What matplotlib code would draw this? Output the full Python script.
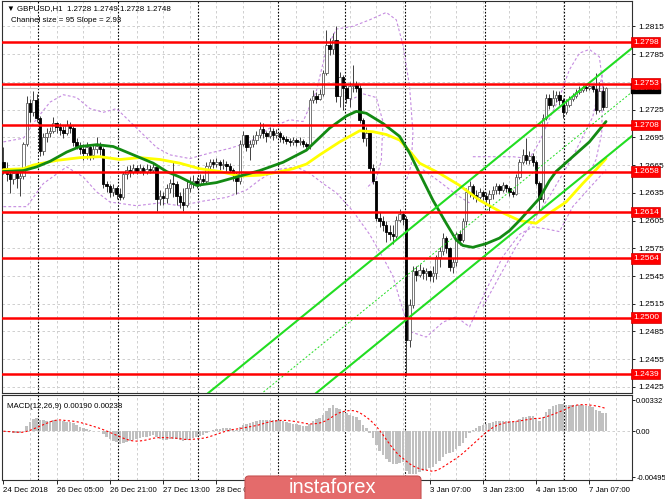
import matplotlib
matplotlib.use('Agg')
import matplotlib.pyplot as plt
import matplotlib.transforms as mtransforms
from matplotlib.patches import FancyBboxPatch
import numpy as np
import pandas as pd

plt.rcParams['font.family'] = ['Liberation Sans', 'DejaVu Sans']

# GBPUSD H1, bar 0 = 24 Dec 2018 13:00 ... bar 181 = 7 Jan 2019 12:00
open_first = 1.2668
close = [1.2662, 1.2655, 1.2650, 1.2656, 1.2651, 1.2653, 1.2688, 1.2732, 1.2722, 1.2735, 1.2716,
         1.2680, 1.2695, 1.2700, 1.2702, 1.2710, 1.2706, 1.2703, 1.2700, 1.2708, 1.2705,
         1.2690, 1.2686, 1.2682, 1.2678, 1.2684, 1.2676, 1.2682, 1.2686, 1.2682, 1.2645,
         1.2642, 1.2636, 1.2640, 1.2634, 1.2630, 1.2655, 1.2660, 1.2658, 1.2662, 1.2659,
         1.2662, 1.2658, 1.2661, 1.2660, 1.2663, 1.2628, 1.2632, 1.2629, 1.2640, 1.2646,
         1.2645, 1.2632, 1.2625, 1.2622, 1.2640, 1.2644, 1.2648, 1.2645, 1.2650, 1.2648,
         1.2664, 1.2668, 1.2666, 1.2668, 1.2665, 1.2666, 1.2664, 1.2660, 1.2655, 1.2648,
         1.2688, 1.2698, 1.2684, 1.2688, 1.2692, 1.2698, 1.2704, 1.2700, 1.2696, 1.2702,
         1.2698, 1.2700, 1.2695, 1.2693, 1.2691, 1.2690, 1.2692, 1.2690, 1.2691, 1.2688, 1.2686,
         1.2735, 1.2740, 1.2736, 1.2742, 1.2765, 1.2795, 1.2790, 1.2800, 1.2740, 1.2760,
         1.2748, 1.2738, 1.2750, 1.2752, 1.2748, 1.2714, 1.2694, 1.2700, 1.2662, 1.2648,
         1.2608, 1.2604, 1.2600, 1.2593, 1.2590, 1.2588, 1.2606, 1.2612, 1.2607, 1.2476,
         1.2514, 1.2550, 1.2546, 1.2552, 1.2548, 1.2550, 1.2545, 1.2548, 1.2566, 1.2572,
         1.2586, 1.2575, 1.2555, 1.2560, 1.2590, 1.2584, 1.2604, 1.2636, 1.2642, 1.2633,
         1.2630, 1.2636, 1.2632, 1.2628, 1.2634, 1.2638, 1.2642, 1.2638, 1.2643, 1.2640,
         1.2636, 1.2634, 1.2652, 1.2668, 1.2676, 1.2670, 1.2675, 1.2668, 1.2646, 1.2628,
         1.2716, 1.2738, 1.2730, 1.2738, 1.2741, 1.2735, 1.2722, 1.2730, 1.2736, 1.2740,
         1.2744, 1.2746, 1.2749, 1.2748, 1.2750, 1.2747, 1.2725, 1.2745, 1.2728, 1.2748]
high = [1.2685, 1.2668, 1.2660, 1.2662, 1.2660, 1.2658, 1.2690, 1.2740, 1.2736, 1.2745, 1.2742,
        1.2718, 1.2700, 1.2705, 1.2706, 1.2717, 1.2712, 1.2710, 1.2707, 1.2714, 1.2712,
        1.2707, 1.2694, 1.2690, 1.2688, 1.2690, 1.2688, 1.2688, 1.2695, 1.2690, 1.2684,
        1.2648, 1.2645, 1.2645, 1.2642, 1.2640, 1.2658, 1.2664, 1.2665, 1.2666, 1.2665,
        1.2666, 1.2664, 1.2666, 1.2665, 1.2668, 1.2665, 1.2638, 1.2636, 1.2644, 1.2650,
        1.2668, 1.2648, 1.2636, 1.2640, 1.2648, 1.2652, 1.2654, 1.2652, 1.2655, 1.2654,
        1.2668, 1.2672, 1.2672, 1.2673, 1.2670, 1.2671, 1.2669, 1.2667, 1.2662, 1.2658,
        1.2692, 1.2702, 1.2698, 1.2692, 1.2698, 1.2702, 1.2712, 1.2710, 1.2702, 1.2706,
        1.2705, 1.2704, 1.2702, 1.2698, 1.2696, 1.2694, 1.2695, 1.2694, 1.2695, 1.2693, 1.2690,
        1.2738, 1.2746, 1.2744, 1.2747, 1.2768, 1.2811, 1.2802, 1.2808, 1.2815, 1.2766,
        1.2762, 1.2752, 1.2755, 1.2773, 1.2756, 1.2752, 1.2716, 1.2706, 1.2700, 1.2666,
        1.2648, 1.2614, 1.2610, 1.2604, 1.2600, 1.2600, 1.2610, 1.2617, 1.2614, 1.2610,
        1.2520, 1.2556, 1.2556, 1.2558, 1.2555, 1.2554, 1.2552, 1.2556, 1.2568, 1.2576,
        1.2592, 1.2588, 1.2576, 1.2565, 1.2593, 1.2595, 1.2608, 1.2640, 1.2648, 1.2645,
        1.2638, 1.2640, 1.2638, 1.2636, 1.2638, 1.2642, 1.2646, 1.2645, 1.2647, 1.2645,
        1.2642, 1.2638, 1.2655, 1.2672, 1.2682, 1.2694, 1.2680, 1.2678, 1.2670, 1.2648,
        1.2720, 1.2742, 1.2742, 1.2746, 1.2745, 1.2745, 1.2738, 1.2736, 1.2740, 1.2743,
        1.2747, 1.2750, 1.2752, 1.2752, 1.2753, 1.2752, 1.2764, 1.2755, 1.2750, 1.2749]
low = [1.2655, 1.2648, 1.2635, 1.2644, 1.2640, 1.2632, 1.2650, 1.2686, 1.2712, 1.2718, 1.2712,
       1.2675, 1.2676, 1.2690, 1.2695, 1.2700, 1.2700, 1.2697, 1.2694, 1.2698, 1.2700,
       1.2686, 1.2682, 1.2677, 1.2670, 1.2672, 1.2670, 1.2672, 1.2678, 1.2676, 1.2640,
       1.2636, 1.2630, 1.2632, 1.2628, 1.2627, 1.2628, 1.2650, 1.2652, 1.2655, 1.2655,
       1.2656, 1.2654, 1.2655, 1.2656, 1.2657, 1.2615, 1.2622, 1.2622, 1.2624, 1.2635,
       1.2630, 1.2622, 1.2618, 1.2615, 1.2620, 1.2636, 1.2640, 1.2640, 1.2642, 1.2644,
       1.2646, 1.2660, 1.2662, 1.2663, 1.2660, 1.2661, 1.2658, 1.2656, 1.2648, 1.2634,
       1.2645, 1.2686, 1.2680, 1.2670, 1.2684, 1.2688, 1.2694, 1.2694, 1.2690, 1.2694,
       1.2692, 1.2694, 1.2690, 1.2689, 1.2688, 1.2686, 1.2687, 1.2686, 1.2687, 1.2684, 1.2682,
       1.2682, 1.2732, 1.2732, 1.2735, 1.2740, 1.2762, 1.2784, 1.2785, 1.2733, 1.2728,
       1.2725, 1.2732, 1.2728, 1.2744, 1.2744, 1.2710, 1.2690, 1.2686, 1.2658, 1.2644,
       1.2604, 1.2598, 1.2594, 1.2582, 1.2584, 1.2580, 1.2586, 1.2603, 1.2600, 1.2437,
       1.2468, 1.2510, 1.2540, 1.2544, 1.2542, 1.2541, 1.2540, 1.2538, 1.2542, 1.2555,
       1.2568, 1.2570, 1.2550, 1.2548, 1.2556, 1.2578, 1.2582, 1.2600, 1.2630, 1.2628,
       1.2625, 1.2628, 1.2627, 1.2624, 1.2615, 1.2628, 1.2634, 1.2634, 1.2636, 1.2636,
       1.2632, 1.2630, 1.2633, 1.2650, 1.2666, 1.2666, 1.2666, 1.2664, 1.2643, 1.2616,
       1.2625, 1.2714, 1.2726, 1.2728, 1.2733, 1.2730, 1.2716, 1.2720, 1.2728, 1.2734,
       1.2738, 1.2742, 1.2744, 1.2745, 1.2746, 1.2744, 1.2720, 1.2722, 1.2724, 1.2728]

# moving averages (bar, price)
ma30_bars = [0, 6, 10, 14, 19, 23, 28, 33, 37, 41, 45, 49, 53, 58, 64, 71, 77, 84, 91, 98, 103, 106,
             109, 114, 119, 122, 125, 129, 133, 136, 138, 141, 145, 149, 152, 155, 158, 161, 164,
             166, 171, 176, 181]
ma30 = [1.2658, 1.2659, 1.2663, 1.2669, 1.2679, 1.2685, 1.2687, 1.2685, 1.2679, 1.2673, 1.2667,
        1.2658, 1.2652, 1.2643, 1.2646, 1.2653, 1.2659, 1.2668, 1.2681, 1.2705, 1.2718, 1.2723,
        1.2721, 1.2710, 1.2696, 1.2678, 1.2656, 1.2627, 1.2602, 1.2584, 1.2578, 1.2576, 1.2580,
        1.2586, 1.2594, 1.2605, 1.2617, 1.2629, 1.2648, 1.2658, 1.2674, 1.2690, 1.2712]
ma50_bars = [0, 6, 9, 16, 23, 29, 35, 41, 47, 53, 59, 65, 71, 77, 82, 87, 91, 95, 98, 101, 107, 111,
             115, 119, 122, 125, 131, 137, 143, 149, 155, 160, 164, 169, 174, 178, 181]
ma50 = [1.2660, 1.2661, 1.2665, 1.2670, 1.2673, 1.2674, 1.2671, 1.2673, 1.2671, 1.2667, 1.2661,
        1.2658, 1.2653, 1.2654, 1.2657, 1.2661, 1.2666, 1.2676, 1.2683, 1.2690, 1.2702, 1.2701,
        1.2698, 1.2692, 1.2680, 1.2667, 1.2656, 1.2643, 1.2627, 1.2615, 1.2605, 1.2602, 1.2613,
        1.2625, 1.2645, 1.2660, 1.2672]

# purple dashed band curves (bar, price)
band_up_bars = [0, 6, 10, 14, 18, 22, 26, 30, 34, 38, 42, 46, 50, 56, 62, 68, 74, 80, 86, 90, 94, 97,
                100, 105, 110, 115, 118, 120, 122, 123, 122.5, 121]
band_up = [1.2690, 1.2694, 1.2715, 1.2733, 1.2741, 1.2738, 1.2726, 1.2722, 1.2726, 1.2712, 1.2698,
           1.2684, 1.2676, 1.2672, 1.2678, 1.2683, 1.2690, 1.2705, 1.2714, 1.2712, 1.2745, 1.2790,
           1.2812, 1.2815, 1.2822, 1.2830, 1.2822, 1.2795, 1.2750, 1.2700, 1.2665, 1.2648]
band_up2_bars = [141, 147, 153, 158, 161, 164, 167, 170, 173, 176, 179, 180, 179.7, 178, 176]
band_up2 = [1.2674, 1.2674, 1.2674, 1.2672, 1.2690, 1.2715, 1.2738, 1.2768, 1.2786, 1.2790, 1.2782,
            1.2753, 1.2699, 1.2671, 1.2656]
band_mid_bars = [126, 131, 136, 140]
band_mid = [1.2660, 1.2647, 1.2633, 1.2624]
band_loop_bars = [104, 108, 112, 114, 113.5, 112, 109]
band_loop = [1.2735, 1.2742, 1.2738, 1.2712, 1.2670, 1.2650, 1.2640]
band_steep_bars = [144, 154, 164, 171, 177, 180]
band_steep = [1.2512, 1.2577, 1.2631, 1.2674, 1.2717, 1.2764]
band_lo_bars = [0, 7, 12, 19, 24, 28, 32, 40, 47, 53, 60, 67, 73, 77, 82, 88, 92, 96, 100, 105, 110,
                114, 117, 119, 122, 127, 132, 136, 140, 145, 150, 155, 159, 163, 167, 171, 176, 181]
band_lo = [1.2620, 1.2620, 1.2645, 1.2663, 1.2652, 1.2636, 1.2625, 1.2621, 1.2624, 1.2621, 1.2626,
           1.2630, 1.2638, 1.2649, 1.2660, 1.2663, 1.2656, 1.2645, 1.2635, 1.2615, 1.2590, 1.2565,
           1.2545, 1.2520, 1.2485, 1.2479, 1.2495, 1.2501, 1.2490, 1.2530, 1.2566, 1.2590, 1.2598,
           1.2596, 1.2593, 1.2620, 1.2640, 1.2660]

# regression channel: upper line endpoints, width 95 pips
chan_bars = [60, 189]
chan_upper = [1.2414, 1.2792]
chan_width = 0.0095

levels = [1.2798, 1.2753, 1.2708, 1.2658, 1.2614, 1.2564, 1.2500, 1.2439]
bid = 1.2748
price_ticks = [1.2815, 1.2785, 1.2755, 1.2725, 1.2695, 1.2665, 1.2635, 1.2605, 1.2575,
               1.2545, 1.2515, 1.2485, 1.2455, 1.2425]
# 1.2755 sits under the level/bid labels, so it is left unlabelled
price_tick_labels = ['1.2815', '1.2785', '', '1.2725', '1.2695', '1.2665', '1.2635', '1.2605',
                     '1.2575', '1.2545', '1.2515', '1.2485', '1.2455', '1.2425']
# labels that stay visible beside the badge
date_bars = [0, 16, 32, 48, 64, 128, 144, 160, 176]
date_labels = ['24 Dec 2018', '26 Dec 05:00', '26 Dec 21:00', '27 Dec 13:00', '28 Dec 05:00',
               '3 Jan 07:00', '3 Jan 23:00', '4 Jan 15:00', '7 Jan 07:00']
day_breaks = [10.5, 34.5, 58.5, 82.5, 102.5, 120.5, 144.5, 168.5]

W, H = 665, 499
fig = plt.figure(figsize=(W / 100, H / 100), dpi=100)


def px_axes(x0, y0, x1, y1):
    return fig.add_axes([x0 / W, 1 - y1 / H, (x1 - x0) / W, (y1 - y0) / H])


ax = px_axes(2, 0.5, 632, 393)
ax2 = px_axes(2, 395, 632, 480)

xlim = (-0.42, 188.8)
for a in (ax, ax2):
    a.set_xlim(*xlim)
    for g in range(8, 189, 8):
        a.axvline(g, color='#C8C8C8', lw=0.6, ls=(0, (3, 3)), zorder=0)
    for d in day_breaks:
        a.axvline(d, color='black', lw=0.8, ls=(0, (1.5, 1.5)), zorder=0.5)
    for s in a.spines.values():
        s.set_linewidth(0.8)
        s.set_color('#303030')

ax.set_ylim(1.24185, 1.28429)
for t in price_ticks:
    ax.axhline(t, color='#C8C8C8', lw=0.6, ls=(0, (3, 3)), zorder=0)

# purple bands
band_style = dict(color='#C58BE0', lw=0.8, ls=(0, (2.5, 2)), zorder=1)
ax.plot(band_up_bars, band_up, **band_style)
ax.plot(band_up2_bars, band_up2, **band_style)
ax.plot(band_mid_bars, band_mid, **band_style)
ax.plot(band_loop_bars, band_loop, **band_style)
ax.plot(band_steep_bars, band_steep, **band_style)
ax.plot(band_lo_bars, band_lo, **band_style)

ax.axhline(bid, color='#C0C0C0', lw=0.8, zorder=1.5)

# candles
c = np.array(close)
o = np.array([open_first] + close[:-1])
h = np.array(high)
l = np.array(low)
idx = np.arange(len(c))
up = c >= o
ax.vlines(idx, l, h, color='#404040', lw=0.7, zorder=3)
body_lo = np.minimum(o, c)
body_h = np.maximum(np.abs(c - o), 0.00005)
ax.bar(idx[up], body_h[up], bottom=body_lo[up], width=0.72, color='white',
       edgecolor='#606060', lw=0.6, zorder=4)
ax.bar(idx[~up], body_h[~up], bottom=body_lo[~up], width=0.72, color='black',
       edgecolor='black', lw=0.6, zorder=4)

# moving averages
ax.plot(ma50_bars, ma50, color='#FFFF00', lw=2.0, zorder=5, solid_capstyle='round')
ax.plot(ma30_bars, ma30, color='#138A13', lw=2.0, zorder=5, solid_capstyle='round')

# channel
cu = np.array(chan_upper)
ax.plot(chan_bars, cu, color='#22DD22', lw=1.5, zorder=6)
ax.plot(chan_bars, cu - chan_width, color='#22DD22', lw=1.5, zorder=6)
ax.plot(chan_bars, cu - chan_width / 2, color='#22DD22', lw=0.7, ls=(0, (2, 2)), zorder=6)

# horizontal levels with labels
trans = mtransforms.blended_transform_factory(ax.transAxes, ax.transData)
for lv in levels:
    ax.axhline(lv, color='#FF0000', lw=1.8, zorder=6)
ax.yaxis.tick_right()
ax.set_yticks(price_ticks)
ax.set_yticklabels(price_tick_labels)
ax.tick_params(axis='y', length=2.5, pad=2, labelsize=6, width=0.6)
ax.set_xticks([])
ax.text(1.0015, bid, f'{bid:.4f}', transform=trans, ha='left', va='center', fontsize=6,
        color='white', bbox=dict(boxstyle='square,pad=0.2', fc='black', ec='black'),
        zorder=10, clip_on=False)
for lv in levels:
    ax.text(1.0015, lv, f'{lv:.4f}', transform=trans, ha='left', va='center', fontsize=6,
            color='white', bbox=dict(boxstyle='square,pad=0.2', fc='#FF0000', ec='#D00000', lw=0.5),
            zorder=11, clip_on=False)

ax.text(5 / 630, 1 - 8 / 392, '\u25bc GBPUSD,H1  1.2728 1.2749 1.2728 1.2748', transform=ax.transAxes,
        fontsize=5.7, va='center', ha='left', zorder=12)
ax.text(9 / 630, 1 - 19.5 / 392, 'Channel size = 95 Slope = 2.93', transform=ax.transAxes,
        fontsize=5.7, va='center', ha='left', zorder=12)

# MACD panel
s = pd.Series(close)
macd = s.ewm(span=12, adjust=False).mean() - s.ewm(span=26, adjust=False).mean()
signal = macd.rolling(9, min_periods=1).mean()
ax2.set_ylim(-0.00527, 0.00391)
ax2.axhline(0, color='#C8C8C8', lw=0.6, ls=(0, (3, 3)), zorder=0)
ax2.bar(idx, macd.values, width=0.75, color='#C0C0C0', zorder=2)
ax2.plot(idx, signal.values, color='#FF0000', lw=0.8, ls=(0, (2, 2)), zorder=3)
ax2.yaxis.tick_right()
ax2.set_yticks([0.00332, 0.0, -0.00495])
ax2.set_yticklabels(['0.00332', '0.00', '-0.00495'])
ax2.tick_params(axis='y', length=2, pad=1, labelsize=5.5, width=0.6)
ax2.set_xticks(date_bars)
ax2.set_xticklabels(date_labels, ha='left')
ax2.tick_params(axis='x', length=3, pad=2, labelsize=5.7, width=0.6)
ax2.text(5 / 630, 1 - 12 / 85, 'MACD(12,26,9) 0.00190 0.00238', transform=ax2.transAxes,
         fontsize=5.7, va='center', ha='left', zorder=12)

# instaforex badge
badge = FancyBboxPatch((2.45, -0.06), 1.76, 0.29, boxstyle='round,pad=0,rounding_size=0.04',
                       transform=fig.dpi_scale_trans, fc='#E46B6B', ec='#C65252', lw=0.8, zorder=20)
fig.patches.append(badge)
fig.text(3.32 / 6.65, 0.115 / 4.99, 'instaforex', ha='center', va='center', color='white',
         fontsize=14.5, family=['Liberation Sans Narrow', 'Liberation Sans'], zorder=21)

fig.savefig('out.png', dpi=100)
